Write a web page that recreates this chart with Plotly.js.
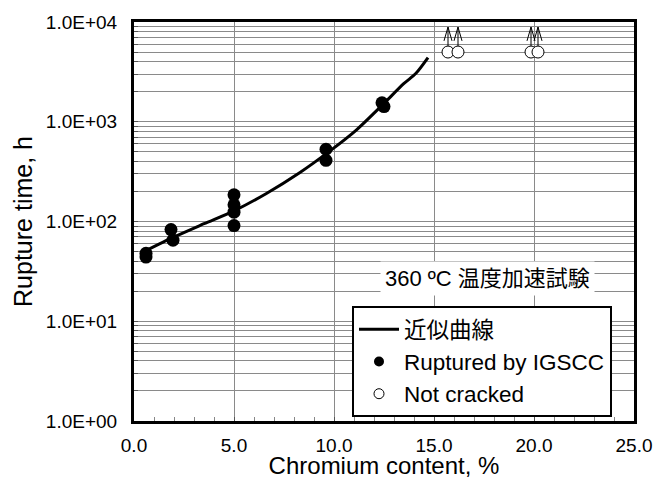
<!DOCTYPE html>
<html>
<head>
<meta charset="utf-8">
<script src="https://cdn.plot.ly/plotly-3.0.1.min.js"></script>
<style>html,body{margin:0;padding:0;background:#fff;}#chart{width:654px;height:479px;}</style>
</head>
<body>
<div id="chart"></div>
<script>
// ---- data ----
const curveX = [0.6, 2.0, 3.5, 5.0, 6.6, 8.3, 9.8, 11.1, 12.4, 13.5, 14.1, 14.7];
const curveY = [51, 70, 95, 128, 190, 310, 510, 820, 1460, 2420, 3060, 4390];

const rupturedX = [0.6, 0.6, 1.85, 1.95, 5.0, 5.0, 5.0, 5.0, 9.6, 9.6, 12.4, 12.5];
const rupturedY = [48, 44, 83, 65, 185, 147, 124, 91, 530, 410, 1550, 1420];

const notCrackedX = [15.7, 16.2, 19.85, 20.2];
const notCrackedY = [5000, 5000, 5000, 5000];

const yTickVals = [1, 10, 100, 1000, 10000];
const yTickText = ['1.0E+00', '1.0E+01', '1.0E+02', '1.0E+03', '1.0E+04'];
const xTickVals = [0, 5, 10, 15, 20, 25];
const xTickText = ['0.0', '5.0', '10.0', '15.0', '20.0', '25.0'];

const names = ['近似曲線', 'Ruptured by IGSCC', 'Not cracked'];
const noteText = '360 ºC 温度加速試験';
const xTitle = 'Chromium content, %';
const yTitle = 'Rupture time, h';

// ---- arrows above the "not cracked" points (built from the data) ----
const arrowTop = 1.78, arrowHead = 1.376, arrowHalf = 0.2;
const arrX = [], arrY = [];
notCrackedX.forEach((x, i) => {
  const y = notCrackedY[i], top = y * arrowTop, low = top / arrowHead;
  arrX.push(x, x, null, x - arrowHalf, x, x + arrowHalf, null);
  arrY.push(y, top, null, low, top, low, null);
});

const FONT = 'Liberation Sans, Arial, Noto Sans CJK JP, sans-serif';
const GRID = '#8a8a8a';

const traces = [
  {x: curveX, y: curveY, mode: 'lines', name: names[0], line: {color: '#000', width: 3, shape: 'spline', smoothing: 0.8}, legendgroup: 'a'},
  {x: arrX, y: arrY, mode: 'lines', showlegend: false, hoverinfo: 'skip', line: {color: '#000', width: 1}},
  {x: rupturedX, y: rupturedY, mode: 'markers', showlegend: false, marker: {symbol: 'circle', size: 13, color: '#000'}},
  {x: notCrackedX, y: notCrackedY, mode: 'markers', showlegend: false, marker: {symbol: 'circle', size: 12, color: '#fff', line: {color: '#000', width: 1}}},
  // legend-only entries (smaller symbols as in the reference legend)
  {x: [null], y: [null], mode: 'markers', name: names[1], marker: {symbol: 'circle', size: 10, color: '#000'}, legendgroup: 'b'},
  {x: [null], y: [null], mode: 'markers', name: names[2], marker: {symbol: 'circle', size: 10, color: '#fff', line: {color: '#000', width: 1}}, legendgroup: 'c'}
];

const layout = {
  width: 654, height: 479,
  margin: {l: 134, r: 20, t: 22, b: 58},
  paper_bgcolor: '#fff', plot_bgcolor: '#fff',
  font: {family: FONT, size: 19, color: '#000'},
  showlegend: true,
  xaxis: {
    range: [0, 25], tickmode: 'array', tickvals: xTickVals, ticktext: xTickText,
    showline: true, linecolor: '#000', linewidth: 3, mirror: true,
    showgrid: true, gridcolor: GRID, gridwidth: 1, zeroline: false,
    ticks: 'inside', ticklen: 4, tickcolor: '#555',
    minor: {dtick: 1, tick0: 0, ticks: 'inside', ticklen: 4, tickcolor: '#888', showgrid: false},
    tickfont: {size: 19}, ticklabelstandoff: 5,
    title: {text: xTitle, font: {size: 24}, standoff: 7}
  },
  yaxis: {
    type: 'log', range: [0, 4], tickmode: 'array', tickvals: yTickVals, ticktext: yTickText,
    showline: true, linecolor: '#000', linewidth: 3, mirror: true,
    showgrid: true, gridcolor: GRID, gridwidth: 1, zeroline: false,
    ticks: 'inside', ticklen: 4, tickcolor: '#555',
    minor: {dtick: 'D1', ticks: 'inside', ticklen: 4, tickcolor: '#555', showgrid: true, gridcolor: GRID, gridwidth: 1},
    tickfont: {size: 19}, ticklabelstandoff: 10,
    title: {text: yTitle, font: {size: 25}, standoff: 7}
  },
  legend: {
    x: 0.436, y: 0.288, xanchor: 'left', yanchor: 'top',
    bgcolor: '#fff', bordercolor: '#000', borderwidth: 2,
    font: {size: 22.5, family: FONT}, tracegroupgap: 0, itemwidth: 40
  },
  annotations: [{
    xref: 'paper', yref: 'paper', x: 0.706, y: 0.356, xanchor: 'center', yanchor: 'middle',
    text: noteText, showarrow: false, bgcolor: '#fff', borderpad: 4,
    font: {size: 22, family: FONT}
  }]
};

Plotly.newPlot('chart', traces, layout, {staticPlot: true, displayModeBar: false});
</script>
</body>
</html>
